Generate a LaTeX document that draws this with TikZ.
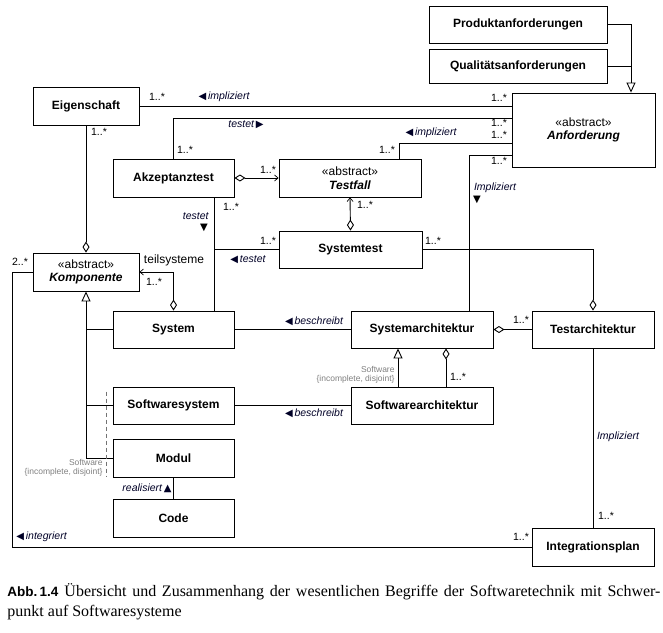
\documentclass[tikz,border=0pt]{standalone}
\usepackage{fontspec}
\setmainfont{Liberation Serif}
\setsansfont{Liberation Sans}
\newfontfamily\symf{DejaVu Sans}
\usetikzlibrary{arrows.meta,calc}
\newcommand{\lt}{{\symf\fontsize{10}{11}\selectfont ◀}\,}
\newcommand{\rt}{\,{\symf\fontsize{10}{11}\selectfont ▶}}
\newcommand{\dn}{{\symf\fontsize{10}{11}\selectfont ▼}}
\newcommand{\up}{{\symf\fontsize{10}{11}\selectfont ▲}}
\begin{document}
\begin{tikzpicture}[x=1pt,y=-1pt,line width=0.9pt,
  cls/.style={draw,line width=0.9pt,font=\sffamily\bfseries\fontsize{12}{13.5}\selectfont,inner sep=0pt,align=center},
  mult/.style={font=\sffamily\fontsize{10.5}{12}\selectfont,inner sep=0pt},
  rel/.style={font=\sffamily\itshape\fontsize{10.5}{12}\selectfont,inner sep=0pt,text=black!85!blue},
  cons/.style={font=\sffamily\fontsize{8.5}{9.5}\selectfont,text=black!50,inner sep=0pt,align=right},
  agg/.style={{Diamond[open,length=11pt,width=7pt]}-},
  aggr/.style={-{Diamond[open,length=11pt,width=7pt]}},
  aggnav/.style={{Diamond[open,length=11pt,width=7pt]}-{Straight Barb[length=3.5pt,width=6pt,line width=0.7pt]}},
  gen/.style={-{Triangle[open,length=10pt,width=9pt]}}
]
\useasboundingbox (0,0) rectangle (663,632);

% classes
\node[cls,minimum width=178pt,minimum height=37pt] (prod) at (518,24.5) {Produktanforderungen};
\node[cls,minimum width=178pt,minimum height=34pt] (qual) at (518,66) {Qualitätsanforderungen};
\node[cls,minimum width=143pt,minimum height=74pt] (anf) at (583.5,130) {{\mdseries «abstract»}\\{\itshape Anforderung}};
\node[cls,minimum width=106pt,minimum height=38pt] (eig) at (86,106) {Eigenschaft};
\node[cls,minimum width=121pt,minimum height=38pt] (akz) at (173.5,178) {Akzeptanztest};
\node[cls,minimum width=142pt,minimum height=38pt] (tf) at (350,178) {{\mdseries «abstract»}\\{\itshape Testfall}};
\node[cls,minimum width=143pt,minimum height=37pt] (st) at (350.5,249.5) {Systemtest};
\node[cls,minimum width=106pt,minimum height=38pt] (komp) at (86,272) {{\mdseries «abstract»}\\{\itshape Komponente}};
\node[cls,minimum width=121pt,minimum height=37pt] (sys) at (173.5,329.5) {System};
\node[cls,minimum width=142pt,minimum height=37pt] (sa) at (422,329.5) {Systemarchitektur};
\node[cls,minimum width=122pt,minimum height=37pt] (ta) at (593,329.5) {Testarchitektur};
\node[cls,minimum width=121pt,minimum height=37pt] (sws) at (173.5,405.5) {Softwaresystem};
\node[cls,minimum width=142pt,minimum height=37pt] (swa) at (422,405.5) {Softwarearchitektur};
\node[cls,minimum width=121pt,minimum height=38pt] (mod) at (173.5,458) {Modul};
\node[cls,minimum width=121pt,minimum height=38pt] (code) at (173.5,518) {Code};
\node[cls,minimum width=122pt,minimum height=38pt] (ip) at (593,547) {Integrationsplan};

% Produkt/Qualitaet -> Anforderung
\coordinate (gtip) at ($(anf.north)+(47.5,0)$);
\draw[gen] (prod.east) -| (gtip);
\draw (qual.east) -- (qual.east -| gtip);

% Eigenschaft - Anforderung
\draw (eig.east) -- (eig.east -| anf.west);
% Akzeptanztest - Anforderung
\coordinate (a2) at ($(anf.west)+(0,-12)$);
\draw (akz.north) |- (a2);
% Testfall - Anforderung
\coordinate (a3) at ($(anf.west)+(0,13)$);
\draw ($(tf.north)+(49,0)$) |- (a3);
% Anforderung - Systemarchitektur
\coordinate (a4) at ($(anf.west)+(0,25)$);
\draw (a4) -| ($(sa.north)+(47,0)$);

% Akzeptanztest -> Testfall
\draw[aggnav] (akz.east) -- (tf.west);
% Systemtest -> Testfall
\draw[aggnav] (st.north) -- (tf.south);
% Akzeptanztest - System, Systemtest
\coordinate (ax) at ($(akz.south)+(40.5,0)$);
\draw (ax) -- ($(sys.north)+(40.5,0)$);
\draw (st.west) -- (st.west -| ax);
% Systemtest - Testarchitektur
\draw[aggr] (st.east) -| (ta.north);

% Eigenschaft - Komponente
\draw[aggr] (eig.south) -- (komp.north);
% teilsysteme
\draw[aggnav] (sys.north) |- (komp.east);
% generalization tree
\draw[gen] (mod.west -| komp.south) -- (komp.south);
\draw (sys.west) -- (sys.west -| komp.south);
\draw (sws.west) -- (sws.west -| komp.south);
\draw (mod.west) -- (mod.west -| komp.south);
\draw[dashed,black!55,line width=0.7pt,dash pattern=on 4pt off 3pt] ($(sws.north west)+(-6,5)$) -- ($(mod.south west)+(-6,0)$);

% integriert
\draw (komp.west) -- ++(-20,0) |- (ip.west);

% beschreibt
\draw (sys.east) -- (sa.west);
\draw (sws.east) -- (swa.west);
% Testarchitektur - Systemarchitektur
\draw[agg] (sa.east) -- (ta.west);
% Softwarearchitektur -> Systemarchitektur
\draw[gen] ($(swa.north)+(-24,0)$) -- ($(sa.south)+(-24,0)$);
\draw[agg] ($(sa.south)+(24,0)$) -- ($(swa.north)+(24,0)$);
% Testarchitektur - Integrationsplan
\draw (ta.south) -- (ip.north);
% Modul - Code
\draw (mod.south) -- (code.north);

% labels
\node[mult] (m1) at (157,97) {1..*};
\node[rel] (l1) at (224,97) {\lt impliziert};
\node[mult] (m2) at (499,98) {1..*};
\node[rel] (l2) at (246,125) {testet\rt};
\node[mult] (m3) at (499,123) {1..*};
\node[mult] (m4) at (499,135) {1..*};
\node[rel] (l3) at (431,133) {\lt impliziert};
\node[mult] (m5) at (499,161) {1..*};
\node[mult] (m6) at (185,150) {1..*};
\node[mult] (m7) at (387,150) {1..*};
\node[rel] (l4) at (495,188) {Impliziert};
\node[inner sep=0pt] (l4a) at (477,200) {\dn};
\node[mult] (m8) at (268,170) {1..*};
\node[mult] (m9) at (365,205) {1..*};
\node[mult] (m10) at (231,207) {1..*};
\node[rel,anchor=east] (l5) at (209,216) {testet};
\node[inner sep=0pt] (l5a) at (204,228) {\dn};
\node[mult] (m11) at (268,241) {1..*};
\node[rel] (l6) at (248,260) {\lt testet};
\node[mult] (m12) at (433,241) {1..*};
\node[mult] (m13) at (99,132) {1..*};
\node[mult] (m14) at (20,262) {2..*};
\node[font=\sffamily\fontsize{12}{13}\selectfont,inner sep=0pt] (ts) at (174,260) {teilsysteme};
\node[mult] (m15) at (154,282) {1..*};
\node[rel] (l7) at (314,321) {\lt beschreibt};
\node[rel] (l8) at (314,413) {\lt beschreibt};
\node[mult] (m16) at (521,320) {1..*};
\node[cons,anchor=east] (c1) at (395,375) {Software\\{\{}incomplete, disjoint{\}}};
\node[mult] (m17) at (458,377) {1..*};
\node[cons,anchor=east] (c2) at (103,468) {Software\\{\{}incomplete, disjoint{\}}};
\node[rel,anchor=east] (l9) at (172,488) {realisiert\,\up};
\node[rel,anchor=west] (l10) at (16,537) {\lt integriert};
\node[mult] (m18) at (521,537) {1..*};
\node[rel] (l11) at (618,437) {Impliziert};
\node[mult] (m19) at (606,516) {1..*};

% caption
\node[anchor=west,inner sep=0pt,font=\fontsize{16}{18}\selectfont] (cap1) at (7,592)
  {\makebox[653pt][s]{{\sffamily\bfseries\fontsize{13.5}{15}\selectfont Abb.\,1.4}\hspace{6pt}Übersicht und Zusammenhang der wesentlichen Begriffe der Softwaretechnik mit Schwer-}};
\node[anchor=west,inner sep=0pt,font=\fontsize{16}{18}\selectfont] (cap2) at (7,613) {punkt auf Softwaresysteme};
\end{tikzpicture}
\end{document}
